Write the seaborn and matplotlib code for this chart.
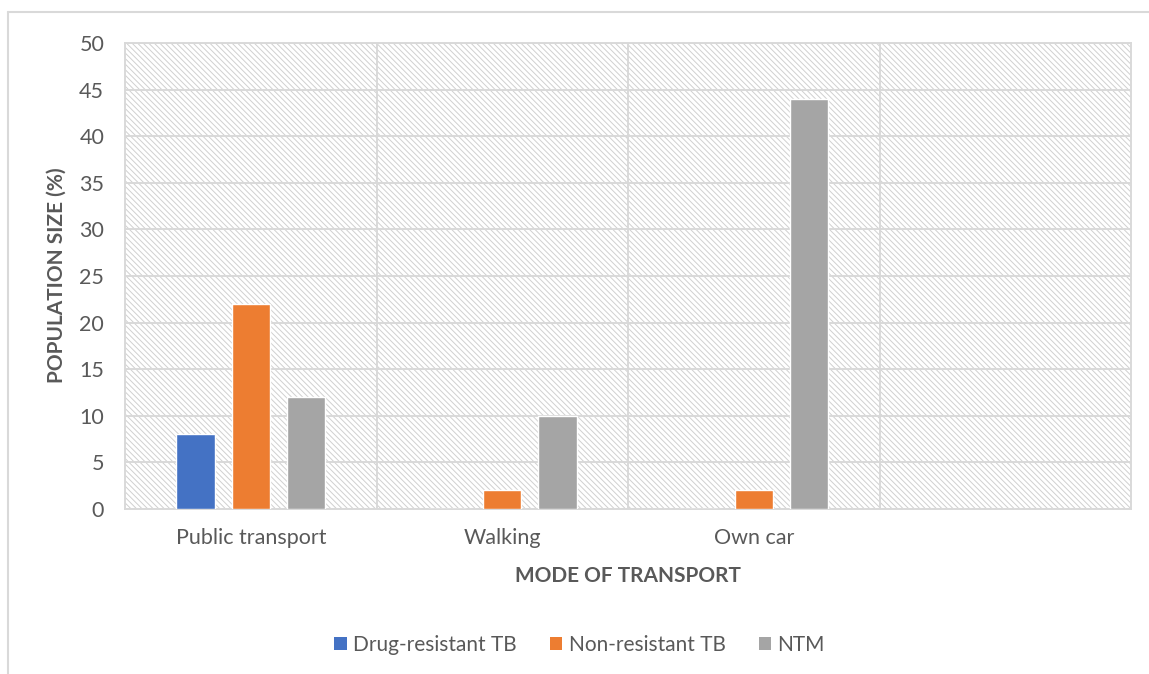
import numpy as np
import pandas as pd
import matplotlib
matplotlib.use("Agg")
import matplotlib.pyplot as plt
from matplotlib.patches import Rectangle
from matplotlib.lines import Line2D
import seaborn as sns

# Share of each patient group by usual mode of transport
categories = ["Public transport", "Walking", "Own car"]
series = ["Drug-resistant TB", "Non-resistant TB", "NTM"]
drug_resistant = [8, 0, 0]
non_resistant = [22, 2, 2]
ntm = [12, 10, 44]
colors = ["#4472C4", "#ED7D31", "#A5A5A5"]
y_ticks = [0, 5, 10, 15, 20, 25, 30, 35, 40, 45, 50]

df = pd.DataFrame({
    "mode": categories * 3,
    "group": np.repeat(series, len(categories)),
    "value": drug_resistant + non_resistant + ntm,
})

sns.set_theme(style="white")
plt.rcParams["font.family"] = ["Lato", "DejaVu Sans"]
plt.rcParams["hatch.linewidth"] = 0.7

text_color = "#595959"
line_color = "#d9d9d9"

fig = plt.figure(figsize=(11.49, 6.74), dpi=100)
ax = fig.add_axes([125 / 1149, 1 - 509 / 674, 1006 / 1149, 466 / 674])

# hatched plot-area background (dense light diagonal lines)
ax.add_patch(Rectangle((0, 0), 1, 1, transform=ax.transAxes, facecolor="white",
                       edgecolor="#d0d0d0", hatch=chr(92) * 6, linewidth=0, zorder=0.1))

sns.barplot(data=df, x="mode", y="value", hue="group", order=categories,
            hue_order=series, palette=colors, saturation=1, width=0.66, gap=0.31,
            errorbar=None, legend=False, ax=ax, zorder=3)

ax.set_xlim(-0.5, 3.5)
ax.set_ylim(0, 50)
ax.set_yticks(y_ticks)
ax.set_xticks(range(len(categories)))
ax.set_xticklabels(categories)
ax.set_xticks([0.5, 1.5, 2.5], minor=True)
ax.set_axisbelow(True)
ax.grid(axis="y", which="major", color=line_color, linewidth=1.4, zorder=0.5)
ax.grid(axis="x", which="minor", color=line_color, linewidth=1.4, zorder=0.5)
ax.grid(axis="x", which="major", visible=False)
ax.tick_params(axis="both", which="both", length=0, labelsize=15.5, colors=text_color)
ax.tick_params(axis="y", pad=15)
ax.tick_params(axis="x", pad=14)
for s in ax.spines.values():
    s.set_color(line_color)
    s.set_linewidth(1.4)

ax.set_ylabel("POPULATION SIZE (%)", fontsize=15, fontweight="bold", color=text_color)
ax.set_xlabel("MODE OF TRANSPORT", fontsize=15, fontweight="bold", color=text_color)
ax.yaxis.set_label_coords(-0.058, 0.502)
ax.xaxis.set_label_coords(0.5, -0.122)

handles = [Rectangle((0, 0), 1, 1, facecolor=c, edgecolor="none") for c in colors]
fig.legend(handles, series, loc="center", bbox_to_anchor=(0.5044, 1 - 645 / 674),
           ncol=3, frameon=False, fontsize=15, handlelength=0.6, handleheight=0.6,
           handletextpad=0.3, columnspacing=1.6, labelcolor=text_color)

# outer chart frame
fig.add_artist(Line2D([8 / 1149, 8 / 1149], [0, 1 - 12 / 674], transform=fig.transFigure,
                      color=line_color, linewidth=1.5))
fig.add_artist(Line2D([8 / 1149, 1], [1 - 12 / 674, 1 - 12 / 674], transform=fig.transFigure,
                      color=line_color, linewidth=1.5))

fig.savefig("out.png", dpi=100)
